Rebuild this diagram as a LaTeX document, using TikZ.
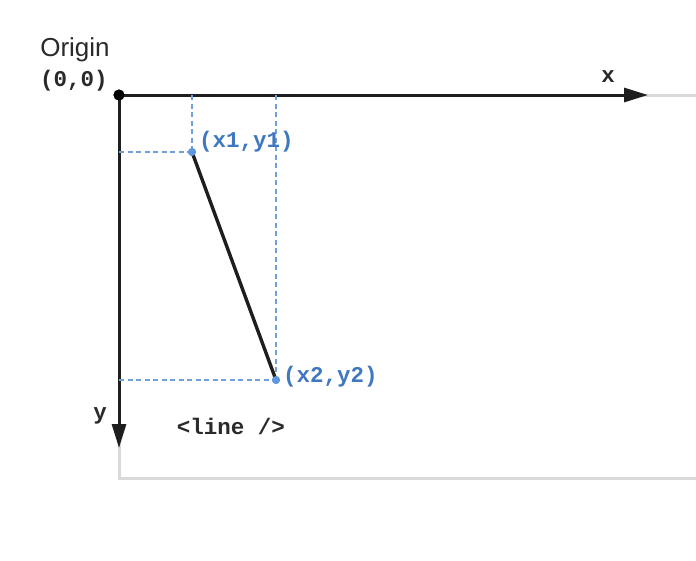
\documentclass[tikz,border=0pt]{standalone}
\usepackage{fontspec}
\setmainfont{Liberation Sans}
\newfontfamily\codefont{Liberation Mono}
\usetikzlibrary{arrows.meta}
\definecolor{axisc}{HTML}{1E1E1E}
\definecolor{textc}{HTML}{2A2A2A}
\definecolor{framec}{HTML}{D9D9D9}
\definecolor{dashc}{HTML}{6FA0DC}
\definecolor{ptc}{HTML}{5E98DE}
\definecolor{lblc}{HTML}{3F78C0}
\tikzset{
  axis/.style={draw=axisc, line width=3pt, -{Triangle[length=24pt,width=14pt]}},
  frame/.style={draw=framec, line width=3pt},
  guide/.style={draw=dashc, line width=1.3pt, dash pattern=on 5pt off 3.5pt},
  pt/.style={circle, fill=ptc, inner sep=0pt, minimum size=8pt},
  code/.style={font=\codefont\bfseries\fontsize{22.5}{26}\selectfont, inner sep=0pt},
  bluecode/.style={code, text=lblc},
  seg/.style={draw=axisc, line width=3.4pt}
}
\begin{document}
\begin{tikzpicture}[x=1pt,y=-1pt]
\useasboundingbox (0,0) rectangle (696,560);
\fill[white] (0,0) rectangle (696,560);
% frame
\coordinate (tr) at (696,95);
\coordinate (bl) at (119,478);
\coordinate (br) at (696,478);
\node[circle, fill=black, inner sep=0pt, minimum size=11pt] (o) at (119,95) {};
\draw[frame] (tr) -- (o.center) -- (bl) -- (br);
% axes
\coordinate (xend) at (648,95);
\coordinate (yend) at (119,448);
\draw[axis] (o.center) -- (xend);
\draw[axis] (o.center) -- (yend);
\node[circle, fill=black, inner sep=0pt, minimum size=11pt] at (o) {};
% guides
\node[pt] (p1) at (192,152) {};
\node[pt] (p2) at (276,380) {};
\coordinate (x1top) at (192,95);
\coordinate (x2top) at (276,95);
\coordinate (y1left) at (119,152);
\coordinate (y2left) at (119,380);
\draw[guide] (x1top) -- (p1.center);
\draw[guide] (y1left) -- (p1.center);
\draw[guide] (x2top) -- (p2.center);
\draw[guide] (y2left) -- (p2.center);
% the line
\draw[seg] (p1.center) -- (p2.center);
\node[pt] at (p1) {};
\node[pt] at (p2) {};
% labels
\node[font=\fontsize{26}{30}\selectfont, text=textc, inner sep=0pt] (orig) at (75,50) {Origin};
\node[code, text=textc] (zero) at (74,81) {(0,0)};
\node[code, text=textc] (xl) at (608,77) {x};
\node[code, text=textc] (yl) at (100,416) {y};
\node[code, text=textc] (ln) at (231,426) {<line />};
\node[bluecode, anchor=west] (l1) at (199,142) {(x1,y1)};
\node[bluecode, anchor=west] (l2) at (283,377) {(x2,y2)};
\end{tikzpicture}
\end{document}
